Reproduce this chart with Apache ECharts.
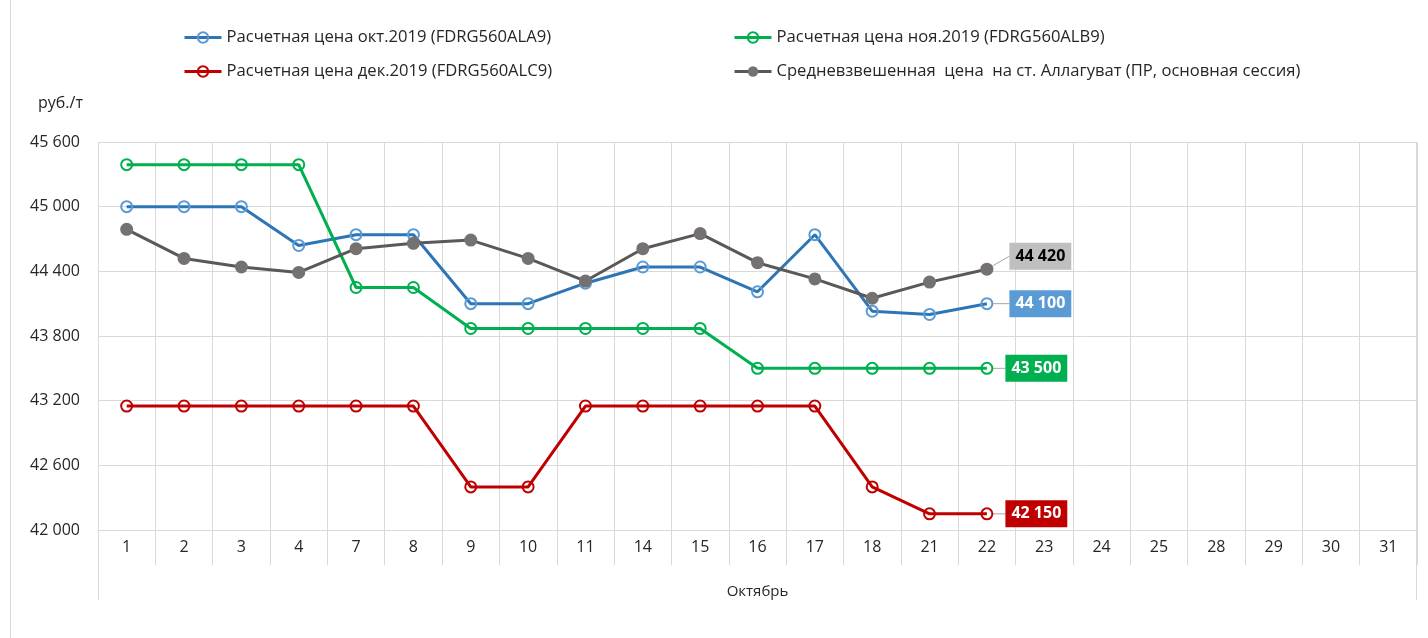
<!DOCTYPE html>
<html>
<head>
<meta charset="utf-8">
<script src="https://cdn.jsdelivr.net/npm/echarts@6/dist/echarts.min.js"></script>
<style>
  html, body { margin: 0; padding: 0; background: #fff; }
  #chart { width: 1428px; height: 638px; }
</style>
</head>
<body>
<div id="chart"></div>
<script>
// Trading days of October (incl. the remaining days of the month)
const days = ['1','2','3','4','7','8','9','10','11','14','15','16','17','18','21','22','23','24','25','28','29','30','31'];

// Settlement prices of the futures, rub/t
const octPrice = [45000,45000,45000,44640,44740,44740,44100,44100,44290,44440,44440,44210,44740,44030,44000,44100];
const novPrice = [45390,45390,45390,45390,44250,44250,43870,43870,43870,43870,43870,43500,43500,43500,43500,43500];
const decPrice = [43150,43150,43150,43150,43150,43150,42400,42400,43150,43150,43150,43150,43150,42400,42150,42150];
// Weighted average price at Allaguvat station
const avgPrice = [44790,44520,44440,44390,44610,44660,44690,44520,44310,44610,44750,44480,44330,44150,44300,44420];

const yTicks = { min: 42000, max: 45600, step: 600 };

const seriesNames = [
  'Расчетная цена окт.2019 (FDRG560ALA9)',
  'Расчетная цена ноя.2019 (FDRG560ALB9)',
  'Расчетная цена дек.2019 (FDRG560ALC9)',
  'Средневзвешенная  цена  на ст. Аллагуват (ПР, основная сессия)'
];

const FONT = 'Open Sans';
const TXT = '#262626';
const GRIDC = '#d9d9d9';
const G = { left: 98, right: 11, top: 142, bottom: 108 };
const W = 1428, H = 638;

const fmt = v => String(v).replace(/\B(?=(\d{3})+(?!\d))/g, ' ');

function withEndLabel(values, bg, textColor) {
  return values.map((v, i) => {
    if (i !== values.length - 1) return v;
    return {
      value: v,
      label: {
        show: true,
        position: 'right',
        distance: 0,
        formatter: p => fmt(p.value),
        backgroundColor: bg,
        color: textColor,
        fontFamily: FONT,
        fontWeight: 'bold',
        fontSize: 16,
        lineHeight: 18,
        padding: [5, 6, 4, 6]
      },
      labelLine: { show: true, lineStyle: { color: '#a6a6a6', width: 1 } }
    };
  });
}

function lineSeries(name, values, lineColor, markColor, filled, bg, textColor, dx, dy) {
  return {
    name: name,
    type: 'line',
    data: withEndLabel(values, bg, textColor),
    symbol: 'circle',
    symbolSize: filled ? 13 : 11,
    showAllSymbol: true,
    lineStyle: { color: lineColor, width: 3 },
    itemStyle: filled
      ? { color: markColor }
      : { color: 'rgba(255,255,255,0)', borderColor: markColor, borderWidth: 2 },
    emphasis: { disabled: true },
    labelLayout: { dx: dx, dy: dy },
    labelLine: { show: true, lineStyle: { color: '#a6a6a6', width: 1 } },
    animation: false
  };
}

const chart = echarts.init(document.getElementById('chart'), null, { renderer: 'canvas' });

const legendBase = {
  itemWidth: 37,
  itemHeight: 13,
  textStyle: { fontFamily: FONT, fontSize: 16.6, color: TXT },
  lineStyle: { width: 3 },
  selectedMode: false,
  padding: 0,
  itemGap: 0
};

chart.setOption({
  backgroundColor: '#fff',
  animation: false,
  textStyle: { fontFamily: FONT },
  legend: [
    Object.assign({}, legendBase, { data: [seriesNames[0]], left: 183, top: 29 }),
    Object.assign({}, legendBase, { data: [seriesNames[1]], left: 733, top: 29 }),
    Object.assign({}, legendBase, { data: [seriesNames[2]], left: 183, top: 63 }),
    Object.assign({}, legendBase, { data: [seriesNames[3]], left: 733, top: 63 })
  ],
  grid: { left: G.left, right: G.right, top: G.top, bottom: G.bottom },
  xAxis: {
    type: 'category',
    data: days,
    boundaryGap: true,
    axisLine: { show: true, lineStyle: { color: GRIDC, width: 1 } },
    axisTick: { show: true, interval: 0, length: 35, lineStyle: { color: GRIDC, width: 1 } },
    splitLine: { show: true, interval: 0, lineStyle: { color: GRIDC, width: 1 } },
    axisLabel: { interval: 0, margin: 9, fontFamily: FONT, fontSize: 16, color: TXT },
    name: 'Октябрь',
    nameLocation: 'middle',
    nameGap: 54,
    nameTextStyle: { fontFamily: FONT, fontSize: 15, color: TXT }
  },
  yAxis: {
    type: 'value',
    min: yTicks.min,
    max: yTicks.max,
    interval: yTicks.step,
    axisLine: { show: false },
    axisTick: { show: false },
    splitLine: { show: true, lineStyle: { color: GRIDC, width: 1 } },
    axisLabel: { margin: 18, fontFamily: FONT, fontSize: 16, color: TXT, formatter: v => fmt(v) }
  },
  series: [
    lineSeries(seriesNames[0], octPrice, '#2e75b6', '#5b9bd5', false, '#5b9bd5', '#fff', 16, 0),
    lineSeries(seriesNames[1], novPrice, '#00b050', '#00b050', false, '#00b050', '#fff', 12, 0),
    lineSeries(seriesNames[2], decPrice, '#c00000', '#c00000', false, '#c00000', '#fff', 12, 0),
    lineSeries(seriesNames[3], avgPrice, '#595959', '#767171', true, '#bfbfbf', '#000', 16, -13)
  ],
  graphic: [
    // unit caption above the value axis
    { type: 'text', left: 38, top: 95, style: { text: 'руб./т', font: '16px "Open Sans"', fill: TXT } },
    // outer frame line on the left of the chart area
    { type: 'line', shape: { x1: 10.5, y1: 0, x2: 10.5, y2: H }, style: { stroke: GRIDC, lineWidth: 1 } },
    // outer bounds of the month group below the category labels
    { type: 'line', shape: { x1: G.left + 0.5, y1: G.top, x2: G.left + 0.5, y2: 600 }, style: { stroke: GRIDC, lineWidth: 1 } },
    { type: 'line', shape: { x1: W - G.right - 0.5, y1: G.top, x2: W - G.right - 0.5, y2: 600 }, style: { stroke: GRIDC, lineWidth: 1 } }
  ]
});
</script>
</body>
</html>
